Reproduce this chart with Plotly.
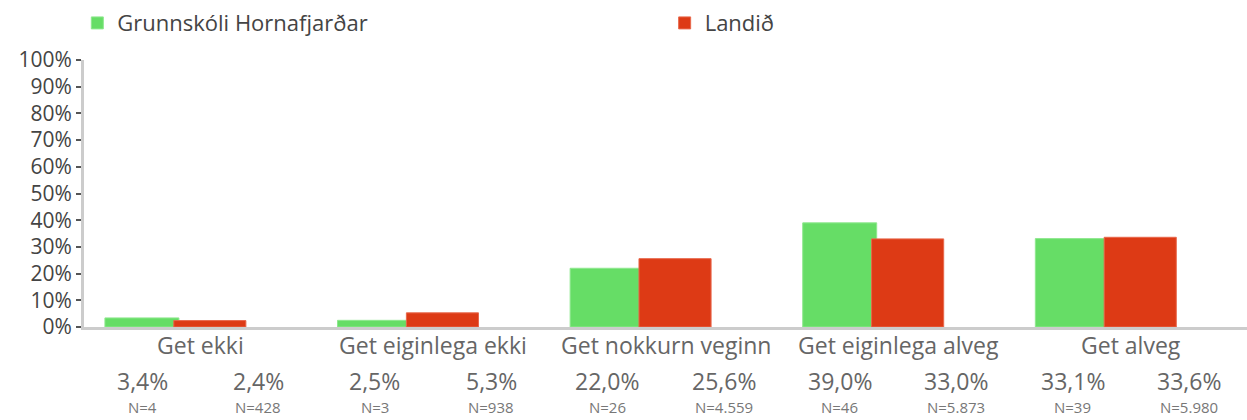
import plotly.graph_objects as go

# Svarmöguleikar og hlutfall svara (%)
categories = ["Get ekki", "Get eiginlega ekki", "Get nokkurn veginn",
              "Get eiginlega alveg", "Get alveg"]
school_name = "Grunnskóli Hornafjarðar"
country_name = "Landið"
school_pct = [3.4, 2.5, 22.0, 39.0, 33.1]
country_pct = [2.4, 5.3, 25.6, 33.0, 33.6]
school_n = [4, 3, 26, 46, 39]
country_n = [428, 938, 4559, 5873, 5980]
y_ticks = [0, 10, 20, 30, 40, 50, 60, 70, 80, 90, 100]

FONT = "Open Sans"
GREEN = "#66dd66"
RED = "#dd3a15"


def pct_text(v):
    return f"{v:.1f}".replace(".", ",") + "%"


def n_text(n):
    return "N=" + f"{n:,}".replace(",", ".")


x_idx = list(range(len(categories)))

fig = go.Figure()
fig.add_trace(go.Bar(
    x=x_idx, y=school_pct, name=school_name, legend="legend",
    offset=-0.41, width=0.318,
    marker=dict(color=GREEN, line=dict(color="#8ee88e", width=1)),
    hoverinfo="skip",
))
fig.add_trace(go.Bar(
    x=x_idx, y=country_pct, name=country_name, legend="legend2",
    offset=-0.114, width=0.31,
    marker=dict(color=RED, line=dict(color="#e8684c", width=1)),
    hoverinfo="skip",
))

annotations = []
for i, cat in enumerate(categories):
    annotations.append(dict(
        x=i, y=0, xref="x", yref="paper", text=cat, showarrow=False,
        yanchor="middle", yshift=-18,
        font=dict(family=FONT, size=23, color="#666666"),
    ))
    for off, v, n in ((-0.25, school_pct[i], school_n[i]),
                      (0.25, country_pct[i], country_n[i])):
        annotations.append(dict(
            x=i + off, y=0, xref="x", yref="paper", text=pct_text(v),
            showarrow=False, yanchor="middle", yshift=-54,
            font=dict(family=FONT, size=23, color="#666666"),
        ))
        annotations.append(dict(
            x=i + off, y=0, xref="x", yref="paper", text=n_text(n),
            showarrow=False, yanchor="middle", yshift=-80,
            font=dict(family=FONT, size=15, color="#777777"),
        ))

legend_style = dict(
    orientation="h", y=0.995, xanchor="left", yanchor="top",
    xref="container", yref="container",
    font=dict(family=FONT, size=22, color="#444444"),
    itemclick=False, itemdoubleclick=False,
)

fig.update_layout(
    width=1247, height=420,
    margin=dict(l=84, r=0, t=60, b=93, autoexpand=False),
    paper_bgcolor="white", plot_bgcolor="white",
    barmode="overlay",
    showlegend=True,
    legend=dict(x=0.062, **legend_style),
    legend2=dict(x=0.533, **legend_style),
    annotations=annotations,
    font=dict(family=FONT),
)

fig.update_xaxes(
    range=[-0.5, 4.5], showticklabels=False, showgrid=False, zeroline=False,
    showline=True, linecolor="#cccccc", linewidth=3, ticks="",
    layer="below traces", fixedrange=True,
)
fig.update_yaxes(
    range=[0, 100], tickvals=y_ticks, ticktext=[f"{t}%" for t in y_ticks],
    showgrid=False, zeroline=False, showline=True, linecolor="#cccccc",
    linewidth=3, ticks="outside", ticklen=5, tickwidth=2, tickcolor="#555555",
    tickfont=dict(family=FONT, size=21, color="#444444"),
    layer="below traces", fixedrange=True,
)

fig.write_html("out.html", config={"displayModeBar": False})
